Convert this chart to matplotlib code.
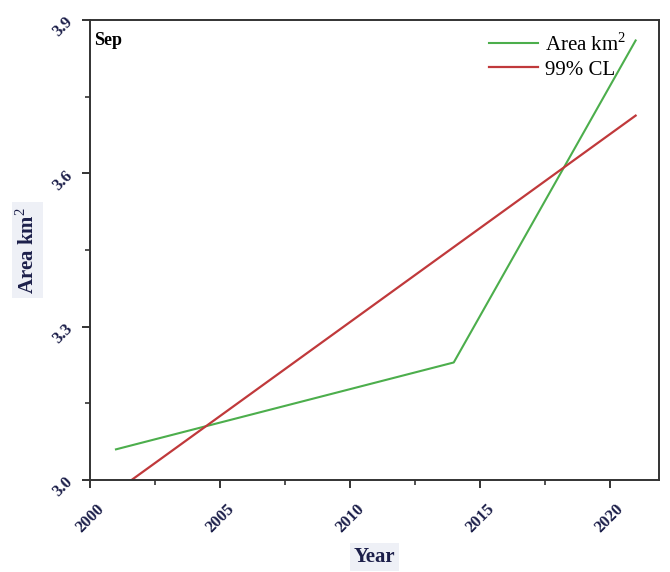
import numpy as np
import matplotlib
matplotlib.use('Agg')
import matplotlib.pyplot as plt
from matplotlib.ticker import MultipleLocator

plt.rcParams['font.family'] = ['Liberation Serif', 'DejaVu Serif']
plt.rcParams['mathtext.fontset'] = 'custom'
plt.rcParams['mathtext.rm'] = 'Liberation Serif'

# September area series and its 99% confidence trend line
years = [2001, 2014, 2021]
area = [3.06, 3.23, 3.86]
cl_years = [2001, 2021]
cl_area = [2.978, 3.713]

navy = '#1c1f4a'

fig = plt.figure(figsize=(6.7, 5.72), dpi=100)
ax = fig.add_axes([0.1343, 0.1608, 0.8493, 0.8042])

ax.plot(years, area, color='#4cae4c', lw=1.5, label='Area km$^2$')
ax.plot(cl_years, cl_area, color='#c0393b', lw=1.6, label='99% CL')

ax.set_xlim(2000, 2021.9)
ax.set_ylim(3.0, 3.9)
ax.xaxis.set_major_locator(MultipleLocator(5))
ax.xaxis.set_minor_locator(MultipleLocator(2.5))
ax.yaxis.set_major_locator(MultipleLocator(0.3))
ax.yaxis.set_minor_locator(MultipleLocator(0.15))
ax.yaxis.set_major_formatter(matplotlib.ticker.FormatStrFormatter('%.1f'))

for s in ax.spines.values():
    s.set_color('#333333')
    s.set_linewidth(1.4)
ax.tick_params(which='major', direction='out', length=6, width=1.4, color='#333333',
               labelsize=12, labelcolor=navy)
ax.tick_params(axis='x', which='major', pad=9)
ax.tick_params(axis='y', which='major', pad=4)
ax.tick_params(which='minor', direction='out', length=3.5, width=1.2, color='#333333')
for lab in ax.get_xticklabels() + ax.get_yticklabels():
    lab.set_rotation(45)
    lab.set_fontweight('bold')

box = dict(facecolor='#eef0f6', edgecolor='none', pad=3)
ax.set_xlabel('Year', fontsize=15, fontweight='bold', color=navy, bbox=box, labelpad=8)
ax.set_ylabel('Area km$^2$', fontsize=15, fontweight='bold', color=navy, bbox=box, labelpad=8)

ax.text(0.008, 0.975, 'Sep', transform=ax.transAxes, fontsize=13, fontweight='bold',
        va='top', ha='left')

ax.legend(loc='upper right', bbox_to_anchor=(0.96, 0.995), frameon=False, fontsize=15,
          handlelength=2.35, handletextpad=0.3, labelspacing=0.22, borderaxespad=0.1)

fig.savefig('out.png', dpi=100)
